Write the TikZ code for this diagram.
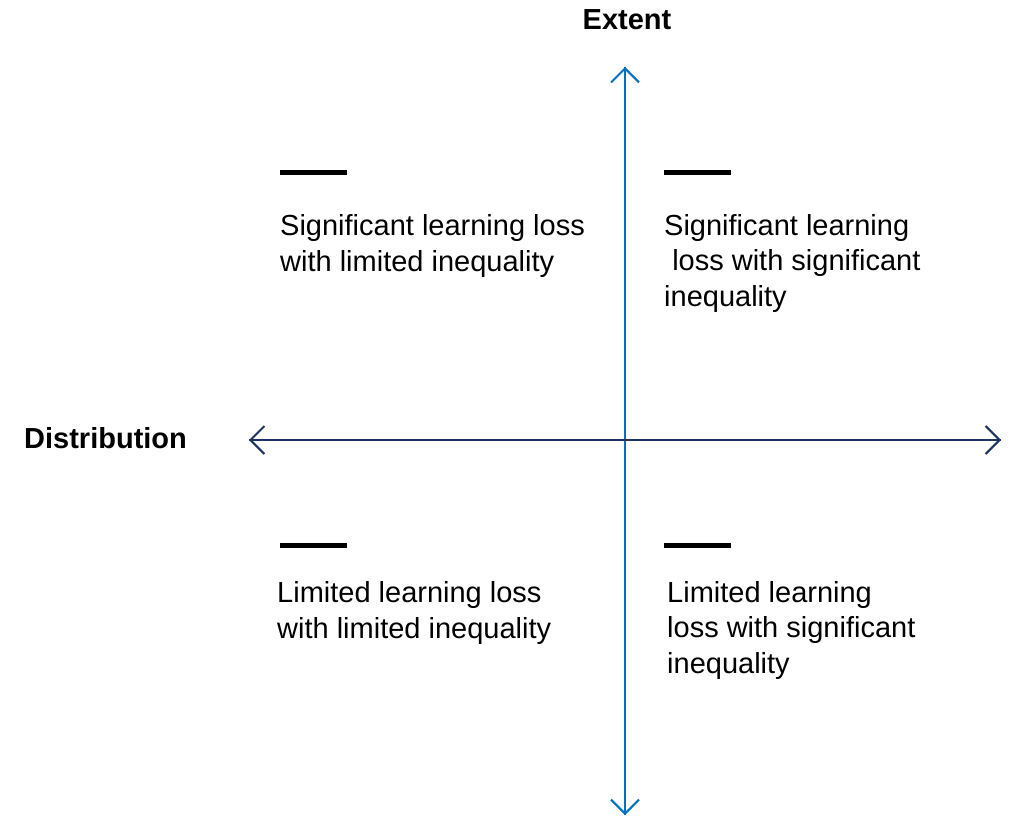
\documentclass[tikz,border=0pt]{standalone}
\usepackage{fontspec}
\setmainfont{Liberation Sans}
\usetikzlibrary{arrows.meta}
\definecolor{vblue}{RGB}{0,112,192}
\definecolor{hnavy}{RGB}{31,50,100}
\tikzset{
  lbl/.style={anchor=base west, align=left, inner sep=0pt, font=\fontsize{29}{35.5}\selectfont},
  ttl/.style={anchor=base, inner sep=0pt, font=\fontsize{29}{35.5}\selectfont\bfseries},
  bar/.style={line width=5pt, black},
  tip/.style={-{Straight Barb[length=14pt,width=28pt,line width=2pt]}},
}
\begin{document}
\begin{tikzpicture}[x=1pt,y=-1pt]
\useasboundingbox (0,0) rectangle (1010,816);
% axes
\coordinate (top) at (625,67);
\coordinate (bot) at (625,815);
\coordinate (left) at (249,440);
\coordinate (right) at (1001,440);
\draw[vblue, line width=2pt, tip] (bot) -- (top);
\draw[vblue, line width=2pt, tip] (top) -- (bot);
\draw[hnavy, line width=2pt, tip] (right) -- (left);
\draw[hnavy, line width=2pt, tip] (left) -- (right);
% titles
\node[ttl] (ext) at (627,30) {Extent};
\node[ttl, anchor=base west] (dist) at (24,448) {Distribution};
% bars
\coordinate (b1a) at (280,172); \coordinate (b1b) at (347,172);
\coordinate (b2a) at (664,172); \coordinate (b2b) at (731,172);
\coordinate (b3a) at (280,545); \coordinate (b3b) at (347,545);
\coordinate (b4a) at (664,545); \coordinate (b4b) at (731,545);
\draw[bar] (b1a) -- (b1b);
\draw[bar] (b2a) -- (b2b);
\draw[bar] (b3a) -- (b3b);
\draw[bar] (b4a) -- (b4b);
% quadrant labels (anchored at the baseline of the last line)
\node[lbl] (tl) at (280,271) {Significant learning loss\\with limited inequality};
\node[lbl] (tr) at (664,306) {Significant learning\\\ loss with significant\\inequality};
\node[lbl] (bl) at (277,638) {Limited learning loss\\with limited inequality};
\node[lbl] (br) at (667,673) {Limited learning\\loss with significant\\inequality};
\end{tikzpicture}
\end{document}
